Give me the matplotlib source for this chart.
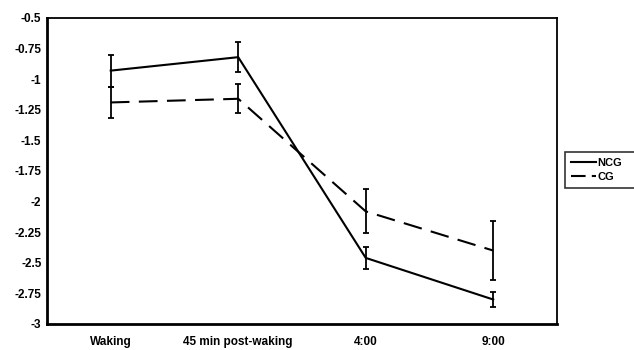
import matplotlib.pyplot as plt
from matplotlib.lines import Line2D
import numpy as np

plt.rcParams['font.family'] = ['Liberation Sans', 'DejaVu Sans']
plt.rcParams['font.weight'] = 'bold'

categories = ['Waking', '45 min post-waking', '4:00', '9:00']
ncg_mean = [-0.93, -0.82, -2.46, -2.80]
ncg_err = [0.13, 0.12, 0.09, 0.065]
cg_mean = [-1.19, -1.16, -2.08, -2.40]
cg_err = [0.13, 0.12, 0.18, 0.24]
yticks = [-0.5, -0.75, -1, -1.25, -1.5, -1.75, -2, -2.25, -2.5, -2.75, -3]

fig = plt.figure(figsize=(6.34, 3.5), dpi=100)
ax = fig.add_axes([0.0741, 0.0743, 0.8044, 0.8743])

x = np.arange(len(categories)) + 0.5
ax.errorbar(x, ncg_mean, yerr=ncg_err, color='black', lw=1.5, elinewidth=1.3,
            capsize=2.5, capthick=1.3)
ax.errorbar(x, cg_mean, yerr=cg_err, color='black', lw=1.5, elinewidth=1.3,
            capsize=2.5, capthick=1.3, dashes=(9, 4.5))

ax.set_xlim(0, 4)
ax.set_ylim(-3, -0.5)
ax.set_xticks(x)
ax.set_xticklabels(categories, fontsize=8.5, fontweight='bold')
ax.set_yticks(yticks)
ax.set_yticklabels(['%g' % t for t in yticks], fontsize=8.5, fontweight='bold')
ax.tick_params(length=0, pad=4)
ax.tick_params(axis='x', pad=9)
for side in ['left', 'bottom']:
    ax.spines[side].set_linewidth(2)
for side in ['top', 'right']:
    ax.spines[side].set_linewidth(1.3)

# legend box runs off the right edge like in the original
handles = [Line2D([], [], color='black', lw=1.5),
           Line2D([], [], color='black', lw=1.5, dashes=(7, 3))]
leg = fig.legend(handles, ['NCG', 'CG'], loc='upper left', mode='expand',
                 bbox_to_anchor=(565 / 634, 0, 75 / 634, 1 - 152 / 350),
                 frameon=True, fancybox=False, edgecolor='black', fontsize=8,
                 handlelength=2.3, handletextpad=0.1, borderpad=0.5,
                 labelspacing=0.4, borderaxespad=0)
leg.get_frame().set_linewidth(1.2)
for t in leg.get_texts():
    t.set_fontweight('bold')

fig.savefig('out.png', dpi=100)
